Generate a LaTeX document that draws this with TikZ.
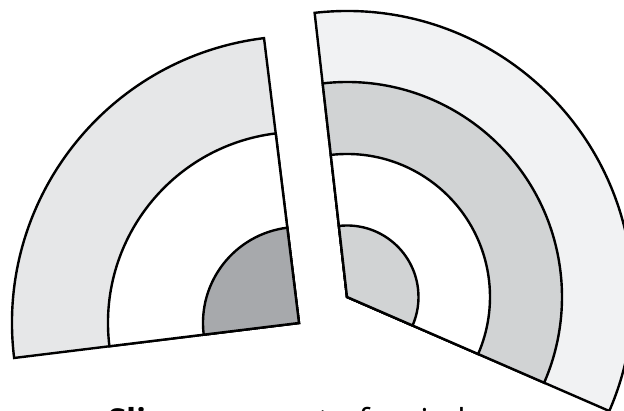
\documentclass[tikz,border=0pt]{standalone}
\usepackage{fontspec}
\setmainfont{Open Sans}
\usepackage{xcolor}
\usepackage{tikz}
\definecolor{ringPale}{RGB}{241,242,243}
\definecolor{ringLight}{RGB}{230,231,232}
\definecolor{ringMid}{RGB}{209,211,212}
\definecolor{ringDark}{RGB}{167,169,172}
\tikzset{
  sectorline/.style={draw=black, line width=2.4pt, line join=miter},
  captiontext/.style={font=\fontsize{33}{36}\selectfont, inner sep=0pt}
}

\begin{document}
\begin{tikzpicture}[x=1pt, y=1pt]
  \useasboundingbox (0,0) rectangle (624,411);
  \clip (0,0) rectangle (624,411);
  % quarter slice, three rings
  \coordinate (qc) at (299,88);
  \foreach \r/\col in {287/ringLight, 191/white, 96/ringDark}
    \draw[sectorline, fill=\col] (qc) -- ++(97:\r)
      arc[start angle=97, end angle=187, radius=\r] -- cycle;
  % third slice, four rings
  \coordinate (tc) at (347,114);
  \foreach \r/\col in {286/ringPale, 215/ringMid, 143/white, 71.5/ringMid}
    \draw[sectorline, fill=\col] (tc) -- ++(96.5:\r)
      arc[start angle=96.5, end angle=-23.5, radius=\r] -- cycle;
  \node[captiontext, anchor=base] (caption) at (296,-22)
    {\textbf{Slices}\ are part of a circle};
\end{tikzpicture}
\end{document}
